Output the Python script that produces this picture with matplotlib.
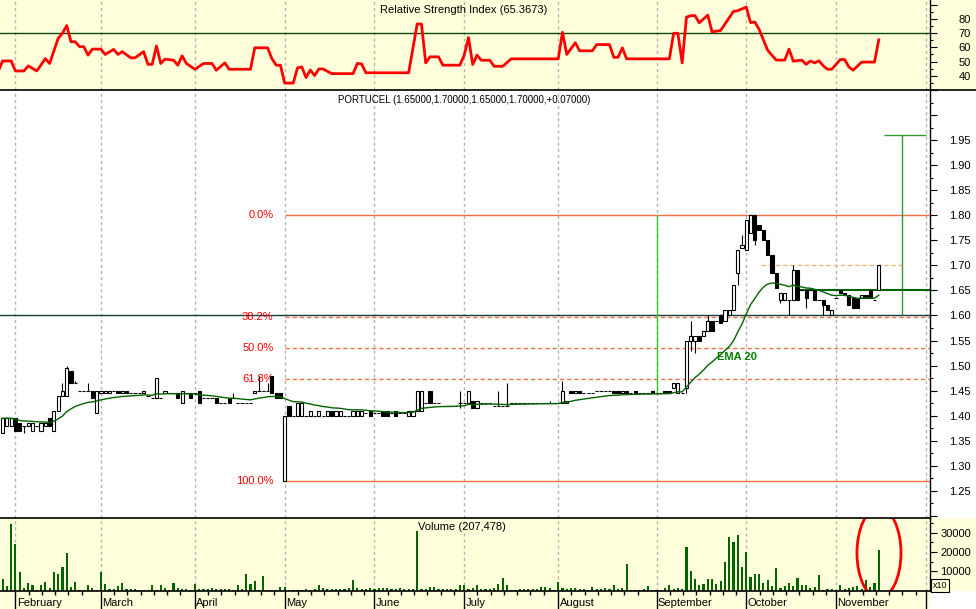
import numpy as np
import pandas as pd
import matplotlib
matplotlib.use("Agg")
import matplotlib.pyplot as plt
from matplotlib.patches import Rectangle, Ellipse
from matplotlib.lines import Line2D
from matplotlib.transforms import blended_transform_factory

plt.rcParams['font.family'] = ['Liberation Sans', 'DejaVu Sans']
plt.rcParams['font.size'] = 8

# ---- data (x = trading day index) ----
opens = [1.365, 1.38, 1.38, 1.395, 1.385, 1.38, 1.38, 1.37, 1.38, 1.37,
         1.38, 1.395, 1.37, 1.41, 1.44, 1.44, 1.49, 1.465, 1.45, 1.45,
         1.45, 1.45, 1.405, 1.445, 1.445, 1.445, 1.45, 1.45, 1.445, 1.45,
         1.445, 1.445, 1.445, 1.445, 1.44, 1.435, 1.435, 1.435, 1.445, 1.445,
         1.445, 1.445, 1.425, 1.445, 1.445, 1.445, 1.45, 1.435, 1.435, 1.435,
         1.435, 1.425, 1.425, 1.435, 1.435, 1.425, 1.425, 1.425, 1.425, 1.445,
         1.45, 1.45, 1.45, 1.48, 1.445, 1.445, 1.27, 1.42, 1.40, 1.40,
         1.40, 1.40, 1.40, 1.40, 1.40, 1.40, 1.40, 1.41, 1.40, 1.40,
         1.40, 1.40, 1.40, 1.40, 1.40, 1.405, 1.41, 1.405, 1.405, 1.41,
         1.41, 1.405, 1.41, 1.405, 1.405, 1.40, 1.40, 1.41, 1.41, 1.425,
         1.45, 1.425, 1.425, 1.42, 1.42, 1.42, 1.42, 1.425, 1.425, 1.425,
         1.43, 1.415, 1.425, 1.425, 1.425, 1.42, 1.42, 1.42, 1.42, 1.425,
         1.425, 1.425, 1.425, 1.425, 1.425, 1.425, 1.425, 1.425, 1.425, 1.425,
         1.425, 1.425, 1.425, 1.45, 1.445, 1.45, 1.445, 1.445, 1.445, 1.45,
         1.45, 1.45, 1.45, 1.45, 1.45, 1.445, 1.45, 1.445, 1.45, 1.445,
         1.445, 1.445, 1.45, 1.445, 1.445, 1.45, 1.45, 1.455, 1.445, 1.445,
         1.455, 1.55, 1.55, 1.56, 1.56, 1.57, 1.59, 1.59, 1.60, 1.59,
         1.60, 1.61, 1.685, 1.735, 1.73, 1.765, 1.80, 1.78, 1.77, 1.75,
         1.72, 1.685, 1.63, 1.63, 1.63, 1.63, 1.69, 1.65, 1.65, 1.65,
         1.65, 1.63, 1.63, 1.62, 1.60, 1.635, 1.65, 1.645, 1.64, 1.635,
         1.635, 1.635, 1.64, 1.65, 1.63, 1.65]
closes = [1.395, 1.395, 1.395, 1.37, 1.37, 1.38, 1.385, 1.385, 1.38, 1.385,
          1.385, 1.38, 1.41, 1.44, 1.45, 1.495, 1.465, 1.465, 1.45, 1.45,
          1.45, 1.435, 1.45, 1.45, 1.45, 1.45, 1.45, 1.445, 1.45, 1.445,
          1.445, 1.445, 1.445, 1.45, 1.44, 1.435, 1.475, 1.435, 1.45, 1.445,
          1.445, 1.435, 1.45, 1.445, 1.435, 1.445, 1.425, 1.435, 1.435, 1.435,
          1.425, 1.425, 1.425, 1.425, 1.435, 1.425, 1.425, 1.425, 1.425, 1.45,
          1.45, 1.45, 1.45, 1.445, 1.435, 1.435, 1.40, 1.40, 1.40, 1.425,
          1.425, 1.40, 1.41, 1.40, 1.41, 1.40, 1.41, 1.40, 1.41, 1.41,
          1.40, 1.40, 1.41, 1.41, 1.41, 1.405, 1.40, 1.405, 1.405, 1.40,
          1.40, 1.405, 1.40, 1.405, 1.405, 1.41, 1.41, 1.45, 1.45, 1.425,
          1.425, 1.425, 1.425, 1.42, 1.42, 1.42, 1.42, 1.425, 1.425, 1.45,
          1.415, 1.43, 1.425, 1.425, 1.425, 1.42, 1.42, 1.42, 1.42, 1.425,
          1.425, 1.425, 1.425, 1.425, 1.425, 1.425, 1.425, 1.425, 1.425, 1.425,
          1.425, 1.45, 1.43, 1.445, 1.45, 1.445, 1.445, 1.445, 1.445, 1.45,
          1.45, 1.45, 1.45, 1.445, 1.445, 1.45, 1.445, 1.445, 1.445, 1.445,
          1.445, 1.445, 1.445, 1.445, 1.445, 1.445, 1.445, 1.465, 1.465, 1.445,
          1.55, 1.56, 1.56, 1.55, 1.57, 1.59, 1.57, 1.59, 1.585, 1.61,
          1.61, 1.66, 1.73, 1.74, 1.79, 1.80, 1.75, 1.77, 1.75, 1.72,
          1.685, 1.655, 1.645, 1.645, 1.63, 1.69, 1.63, 1.65, 1.635, 1.65,
          1.63, 1.63, 1.62, 1.61, 1.61, 1.635, 1.645, 1.64, 1.62, 1.615,
          1.615, 1.64, 1.635, 1.635, 1.63, 1.70]
# wicks that reach past the body
wick_high = {14: 1.465, 15: 1.50, 17: 1.47, 20: 1.465, 54: 1.445, 60: 1.48,
             62: 1.465, 107: 1.45, 116: 1.45, 118: 1.465, 128: 1.43, 131: 1.47,
             161: 1.59, 165: 1.60, 173: 1.76, 185: 1.70}
wick_low = {5: 1.365, 107: 1.415, 160: 1.445, 161: 1.53, 162: 1.525, 172: 1.66,
            176: 1.74, 182: 1.625, 184: 1.60, 188: 1.615, 192: 1.60}

volume_k = [5.8, 2.4, 34.6, 23.9, 9.5, 1.5, 3.7, 2.9, 0.5, 2.9,
            4.6, 1.5, 9.8, 8.3, 12.4, 19.3, 1.9, 4.2, 0.5, 0.5,
            2.7, 1.2, 0.5, 9.7, 3.2, 0.7, 0.7, 2.2, 4.1, 0.7,
            1.0, 0.7, 0.5, 0.5, 0.5, 2.7, 0.5, 2.7, 1.5, 0.5,
            4.1, 1.4, 0.9, 0.9, 0.5, 3.2, 0.7, 0.7, 0.7, 1.5,
            0.7, 1.0, 0.7, 0.7, 0.5, 2.7, 0.7, 8.6, 3.2, 4.9,
            0.5, 7.3, 0.5, 0.5, 0.5, 1.7, 1.9, 0.5, 0.5, 0.5,
            0.5, 0.7, 0.5, 0.7, 2.7, 1.2, 0.7, 0.7, 0.7, 0.7,
            0.7, 1.2, 5.6, 1.2, 0.7, 0.9, 1.2, 0.9, 1.2, 1.5,
            1.5, 0.7, 0.7, 1.5, 1.0, 0.9, 0.9, 30.7, 0.9, 0.7,
            1.7, 1.9, 0.7, 0.7, 0.7, 0.7, 0.7, 2.7, 2.7, 0.7,
            1.2, 2.7, 0.7, 0.7, 0.7, 1.5, 3.6, 6.6, 2.9, 0.5,
            0.5, 1.0, 0.9, 0.7, 0.7, 0.7, 2.0, 2.0, 1.2, 0.5,
            4.2, 1.2, 0.9, 1.4, 1.4, 1.0, 0.7, 0.5, 1.7, 0.9,
            0.9, 1.2, 0.7, 2.7, 0.7, 1.2, 13.9, 0.5, 0.5, 0.5,
            0.7, 2.5, 0.5, 0.5, 0.5, 1.2, 2.7, 0.7, 1.2, 0.7,
            22.5, 10.0, 6.1, 2.7, 3.6, 5.8, 6.1, 3.2, 4.7, 14.7,
            27.5, 25.3, 29.0, 12.2, 19.8, 7.1, 8.6, 8.6, 4.1, 5.6,
            2.4, 11.7, 1.5, 2.4, 4.1, 2.4, 6.6, 2.7, 3.1, 1.5,
            2.0, 7.8, 0.5, 0.7, 0.9, 0.5, 3.1, 0.7, 1.4, 1.7,
            2.2, 0.7, 5.6, 1.7, 4.1, 21.0]

rsi_days = [-1, 0, 2, 3, 5, 6, 8, 10, 11, 13, 14, 15, 16, 17, 18, 19, 20, 21, 23, 24,
            26, 27, 28, 30, 31, 33, 34, 35, 36, 37, 38, 40, 41, 42, 43, 45, 47, 49, 50, 52,
            53, 58, 59, 62, 63, 64, 65, 66, 68, 69, 70, 71, 72, 73, 74, 75, 77, 82, 83, 84,
            85, 95, 97, 98, 99, 100, 102, 103, 107, 108, 109, 110, 111, 112, 114, 115, 117, 119, 130, 131,
            132, 134, 135, 138, 139, 142, 143, 144, 145, 146, 156, 157, 158, 159, 160, 161, 162, 163, 165, 166,
            168, 171, 172, 174, 175, 176, 177, 179, 181, 183, 184, 185, 187, 188, 189, 190, 191, 192, 193, 194,
            196, 197, 198, 199, 201, 204, 205]
rsi_vals = [43.3, 50.4, 50.4, 43.3, 43.3, 46.9, 43.3, 52.0, 48.6, 66.4, 70.0, 75.5, 64.0, 64.0, 60.5, 60.5, 54.5, 58.8, 58.8, 55.0,
            58.6, 55.0, 57.0, 52.6, 52.6, 57.0, 48.0, 48.0, 61.0, 48.6, 51.7, 50.9, 47.4, 54.0, 48.6, 44.5, 48.6, 48.6, 43.8, 49.0,
            44.5, 44.5, 59.7, 59.7, 52.1, 47.4, 47.4, 34.7, 34.7, 45.5, 46.2, 38.6, 44.0, 40.0, 44.7, 44.7, 41.4, 41.4, 48.6, 48.3,
            42.0, 42.0, 76.6, 76.6, 49.0, 53.3, 53.3, 47.4, 47.4, 54.5, 67.0, 47.9, 54.5, 50.9, 50.9, 46.6, 46.6, 51.9, 51.9, 70.7,
            55.0, 63.3, 57.6, 57.6, 62.0, 62.0, 53.0, 53.0, 59.7, 51.9, 51.9, 70.0, 70.0, 49.0, 81.4, 82.5, 82.5, 77.4, 82.9, 71.0,
            72.0, 85.5, 86.0, 88.6, 77.6, 78.0, 72.8, 58.0, 51.0, 51.0, 58.8, 50.2, 51.0, 48.0, 50.3, 49.0, 50.5, 47.0, 44.5, 44.5,
            51.4, 51.4, 46.2, 43.8, 49.6, 49.6, 65.37]

month_days = [3, 23, 45, 66, 87, 108, 130, 153, 174, 195, 216]
month_names = ['February', 'March', 'April', 'May', 'June', 'July',
               'August', 'September', 'October', 'November']

fib_high, fib_low = 1.80, 1.27
fib_ratios = [0.0, 0.382, 0.5, 0.618, 1.0]
fib_start = 66

# ---- derived ----
days = np.arange(len(closes))
o = np.array(opens)
c = np.array(closes)
highs = np.array([max(a, b, wick_high.get(i, 0)) for i, (a, b) in enumerate(zip(o, c))])
lows = np.array([min(a, b, wick_low.get(i, 9)) for i, (a, b) in enumerate(zip(o, c))])
ema = pd.Series(c).ewm(span=20, adjust=False).mean()
volume = np.array(volume_k) * 1000

# ---- layout (pixel based) ----
W, H = 976, 609
px_day, x0 = 4.274, 2.6
x_left = -x0 / px_day
x_right = (930 - x0) / px_day
yellow = '#ffffdc'
grid_col = '#b4b4b4'


def fx(px):
    return px / W


def fy(py):
    return 1 - py / H


fig = plt.figure(figsize=(W / 100, H / 100), dpi=100, facecolor='white')
for (x, y, w, h) in [(0, 0, 976, 90), (0, 518, 976, 72.5), (0, 590.5, 930, 18.5)]:
    fig.patches.append(Rectangle((fx(x), fy(y + h)), w / W, h / H, transform=fig.transFigure,
                                 facecolor=yellow, edgecolor='none', zorder=-10))

ax_r = fig.add_axes([0, fy(90), fx(930), 90 / H])
ax_m = fig.add_axes([0, fy(518), fx(930), 428 / H])
ax_v = fig.add_axes([0, fy(590.5), fx(930), 72.5 / H])


def setup(ax, ylim, major, labels, minor):
    ax.set_xlim(x_left, x_right)
    ax.set_ylim(*ylim)
    ax.patch.set_visible(False)
    for s in ['left', 'top', 'bottom']:
        ax.spines[s].set_visible(False)
    ax.spines['right'].set_linewidth(1)
    ax.yaxis.tick_right()
    ax.set_yticks(major)
    ax.set_yticklabels(labels)
    ax.set_yticks(minor, minor=True)
    ax.tick_params(axis='x', which='both', bottom=False, labelbottom=False)
    ax.tick_params(axis='y', which='major', length=5.3, width=0.8, pad=24.2, labelsize=8)
    ax.tick_params(axis='y', which='minor', length=2.4, width=0.8)
    for t in ax.yaxis.get_major_ticks():
        t.label2.set_horizontalalignment('right')
    for d in month_days:
        ax.axvline(d, color=grid_col, lw=1, ls=(0, (2.2, 2.2)), zorder=0)


# RSI panel
rsi_major = list(range(30, 100, 10))
setup(ax_r, (29.8, 93.6), rsi_major,
      [str(v) if 40 <= v <= 80 else '' for v in rsi_major], list(range(35, 95, 10)))
ax_r.axhline(70, color='#0b4a0b', lw=1, zorder=1)
ax_r.plot(rsi_days, rsi_vals, color='#ff0000', lw=2, zorder=3)
ax_r.text(0.499, 0.885, 'Relative Strength Index (65.3673)', transform=ax_r.transAxes,
          ha='center', va='center', fontsize=8)

# price panel
p_major = np.round(np.arange(1.20, 2.051, 0.05), 2)
setup(ax_m, (1.1958, 2.0501), p_major,
      [f'{v:.2f}' if 1.24 < v < 1.96 else '' for v in p_major],
      np.round(np.arange(1.225, 2.05, 0.05), 3))

ax_m.axhline(1.60, color='#163c3c', lw=1, zorder=2)
for r in fib_ratios:
    lvl = fib_high - r * (fib_high - fib_low)
    ls = '-' if r in (0.0, 1.0) else (0, (3, 2.2))
    ax_m.hlines(lvl, fib_start, x_right, color='#f07040', lw=1, ls=ls, zorder=2)
    ax_m.text(fib_start - 2.6, lvl, f'{r * 100:.1f}%', color='#ff0000', ha='right',
              va='center', fontsize=8)

ax_m.hlines(1.70, 177.4, 210.4, color='#f5b27a', lw=1, ls=(0, (3, 2.2)), zorder=2)
ax_m.vlines(210.4, 1.60, 1.96, color='#339933', lw=1, zorder=2)
ax_m.hlines(1.96, 206.2, 216.1, color='#339933', lw=1, zorder=2)
ax_m.vlines(153.1, 1.445, 1.80, color='#33cc33', lw=1, zorder=2)
ax_m.hlines(1.65, 186, x_right, color='#006400', lw=1.5, zorder=2)

ax_m.vlines(days, lows, highs, color='black', lw=0.8, zorder=3)
bottom = np.minimum(o, c)
height = np.abs(c - o)
up = c >= o
ax_m.bar(days[up], height[up], 0.75, bottom=bottom[up], facecolor='white',
         edgecolor='black', lw=0.8, zorder=4)
ax_m.bar(days[~up], height[~up], 0.75, bottom=bottom[~up], facecolor='black',
         edgecolor='black', lw=0.8, zorder=4)
ax_m.plot(days, ema, color='#006400', lw=1, zorder=5)
ax_m.text(167.2, 1.518, 'EMA 20', color='#008000', fontweight='bold', fontsize=8,
          va='center', ha='left', zorder=6)
ax_m.text(0.499, 0.9766, 'PORTUCEL (1.65000,1.70000,1.65000,1.70000,+0.07000)',
          transform=ax_m.transAxes, ha='center', va='center', fontsize=7)

# volume panel
setup(ax_v, (0, 37560), [10000, 20000, 30000], ['10000', '20000', '30000'],
      [5000, 15000, 25000, 35000])
ax_v.bar(days, volume, 0.5, color='#006400', lw=0, zorder=3)
ax_v.add_patch(Ellipse((205.05, 19430), 10.3, 46630, fill=False, edgecolor='#ff0000', lw=2, zorder=4))
ax_v.text(0.497, 0.876, 'Volume (207,478)', transform=ax_v.transAxes,
          ha='center', va='center', fontsize=8)

minor_x = []
for a, b in zip([0] + month_days[:-1], month_days):
    k = 1
    while a + 3.1 * k < b - 1.5:
        minor_x.append(a + 3.1 * k)
        k += 1
ax_v.set_xticks(month_days)
ax_v.set_xticks(minor_x, minor=True)
ax_v.tick_params(axis='x', which='major', bottom=True, length=13.5, width=1, color='black')
ax_v.tick_params(axis='x', which='minor', bottom=True, length=3, width=1, color='black')
trans = blended_transform_factory(ax_v.transData, ax_v.transAxes)
for d, name in zip(month_days, month_names):
    ax_v.text(d + 0.3, -0.172, name, transform=trans, ha='left', va='center',
              fontsize=8, clip_on=False)

fig.text(fx(933), fy(585.5), 'x10', fontsize=6.5, ha='left', va='center',
         bbox=dict(boxstyle='square,pad=0.2', fc=yellow, ec='black', lw=0.8))

# panel separators
for xs, y in [((0, 1), 90), ((0, fx(930)), 518), ((0, fx(930)), 590.5)]:
    fig.add_artist(Line2D(xs, [fy(y), fy(y)], color='black', lw=1.2, transform=fig.transFigure))

fig.savefig('out.png', dpi=100)
